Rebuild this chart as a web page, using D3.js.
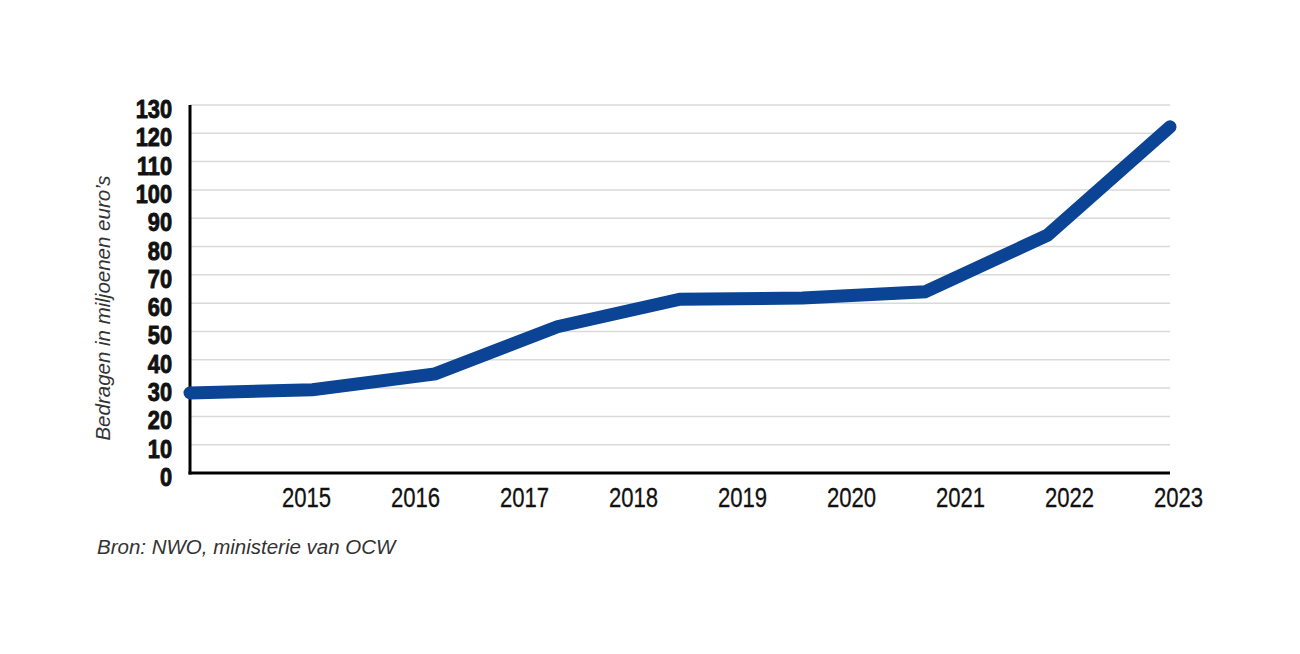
<!DOCTYPE html>
<html>
<head>
<meta charset="utf-8">
<script src="https://cdn.jsdelivr.net/npm/d3@7"></script>
<style>
  html, body { margin: 0; padding: 0; background: #ffffff; }
  svg { display: block; }
</style>
</head>
<body>
<svg id="chart" width="1300" height="654"></svg>
<script>
// ---- data ----
const years = ["2015", "2016", "2017", "2018", "2019", "2020", "2021", "2022", "2023"];
const pointKeys = ["p0", "p1", "p2", "p3", "p4", "p5", "p6", "p7", "p8"];
const values = [28.3, 29.4, 35.0, 51.7, 61.4, 61.8, 64.0, 84.0, 122.3];
const yTicks = [0, 10, 20, 30, 40, 50, 60, 70, 80, 90, 100, 110, 120, 130];
const yTitle = "Bedragen in miljoenen euro’s";
const source = "Bron: NWO, ministerie van OCW";

// ---- layout ----
const svg = d3.select("#chart");
const mLeft = 190, mRight = 1170, mTop = 105, mBottom = 473;

const y = d3.scaleLinear().domain([0, 130]).range([mBottom, mTop]);
const x = d3.scalePoint().domain(pointKeys).range([mLeft, mRight]);
const xLabel = d3.scalePoint().domain(years).range([306.5, 1178.5]);

// gridlines
svg.append("g")
  .selectAll("line")
  .data(yTicks.filter(d => d > 0))
  .join("line")
  .attr("x1", mLeft).attr("x2", mRight)
  .attr("y1", d => y(d)).attr("y2", d => y(d))
  .attr("stroke", "#d9d9d9")
  .attr("stroke-width", 1.5);

// y tick labels
svg.append("g")
  .selectAll("text")
  .data(yTicks)
  .join("text")
  .attr("transform", d => `translate(172,${y(d) + 13}) scale(0.87,1)`)
  .attr("text-anchor", "end")
  .attr("font-family", "Liberation Sans, Arial, sans-serif")
  .attr("font-weight", "bold")
  .attr("font-size", 25)
  .attr("fill", "#111")
  .attr("stroke", "#111")
  .attr("stroke-width", 0.9)
  .attr("stroke-linejoin", "round")
  .text(d => d);

// x labels
svg.append("g")
  .selectAll("text")
  .data(years)
  .join("text")
  .attr("transform", d => `translate(${xLabel(d)},506.5) scale(0.79,1)`)
  .attr("text-anchor", "middle")
  .attr("font-family", "Liberation Sans, Arial, sans-serif")
  .attr("font-size", 28)
  .attr("fill", "#111")
  .attr("stroke", "#111")
  .attr("stroke-width", 0.3)
  .text(d => d);

// axes lines
svg.append("line")
  .attr("x1", mLeft).attr("x2", mLeft)
  .attr("y1", mTop).attr("y2", mBottom + 1.5)
  .attr("stroke", "#000").attr("stroke-width", 3);
svg.append("line")
  .attr("x1", mLeft - 1.5).attr("x2", mRight)
  .attr("y1", mBottom).attr("y2", mBottom)
  .attr("stroke", "#000").attr("stroke-width", 3);

// data line
const line = d3.line()
  .x((d, i) => x(pointKeys[i]))
  .y(d => y(d));

svg.append("path")
  .datum(values)
  .attr("d", line)
  .attr("fill", "none")
  .attr("stroke", "#0b4495")
  .attr("stroke-width", 13)
  .attr("stroke-linecap", "round")
  .attr("stroke-linejoin", "miter");

// y title
svg.append("text")
  .attr("transform", "translate(110,308) rotate(-90)")
  .attr("text-anchor", "middle")
  .attr("font-family", "Liberation Sans, Arial, sans-serif")
  .attr("font-style", "italic")
  .attr("font-size", 20.5)
  .attr("fill", "#333")
  .text(yTitle);

// source
svg.append("text")
  .attr("x", 97)
  .attr("y", 553.5)
  .attr("font-family", "Liberation Sans, Arial, sans-serif")
  .attr("font-style", "italic")
  .attr("font-size", 20.5)
  .attr("fill", "#333")
  .text(source);
</script>
</body>
</html>
